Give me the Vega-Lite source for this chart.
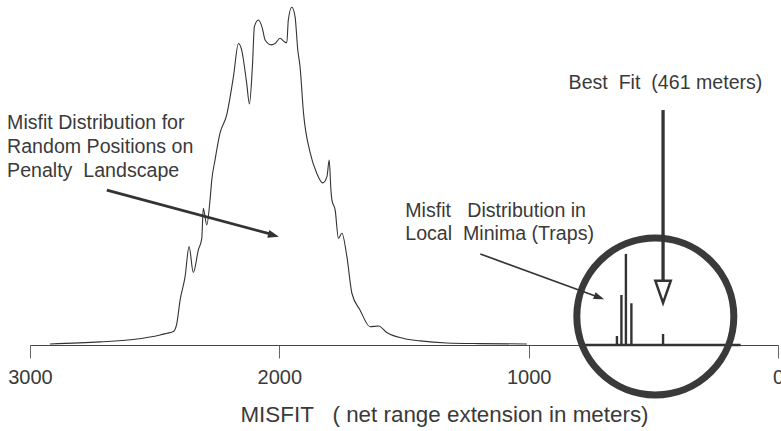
{
  "$schema": "https://vega.github.io/schema/vega-lite/v6.json",
  "width": 748,
  "height": 345,
  "autosize": {"type": "none"},
  "padding": {"left": 30, "top": 0, "right": 3, "bottom": 86},
  "background": "white",
  "config": {
    "view": {"stroke": null},
    "font": "Liberation Sans"
  },
  "layer": [
    {
      "data": {"values": [
        {"misfit": 2920, "freq": 0.3},
        {"misfit": 2719, "freq": 0.9},
        {"misfit": 2587, "freq": 1.6},
        {"misfit": 2478, "freq": 2.9},
        {"misfit": 2451, "freq": 3.4},
        {"misfit": 2425, "freq": 3.9},
        {"misfit": 2411, "freq": 6.3},
        {"misfit": 2398, "freq": 13.0},
        {"misfit": 2378, "freq": 19.8},
        {"misfit": 2362, "freq": 28.5},
        {"misfit": 2345, "freq": 21.0},
        {"misfit": 2325, "freq": 27.5},
        {"misfit": 2311, "freq": 30.9},
        {"misfit": 2305, "freq": 39.6},
        {"misfit": 2291, "freq": 34.8},
        {"misfit": 2278, "freq": 42.0},
        {"misfit": 2271, "freq": 47.8},
        {"misfit": 2258, "freq": 53.6},
        {"misfit": 2238, "freq": 61.4},
        {"misfit": 2211, "freq": 66.7},
        {"misfit": 2184, "freq": 77.8},
        {"misfit": 2164, "freq": 87.4},
        {"misfit": 2151, "freq": 85.5},
        {"misfit": 2131, "freq": 75.9},
        {"misfit": 2120, "freq": 69.9},
        {"misfit": 2108, "freq": 80.7},
        {"misfit": 2100, "freq": 92.3},
        {"misfit": 2084, "freq": 94.2},
        {"misfit": 2068, "freq": 91.8},
        {"misfit": 2057, "freq": 88.4},
        {"misfit": 2033, "freq": 87.0},
        {"misfit": 2017, "freq": 87.4},
        {"misfit": 1997, "freq": 88.9},
        {"misfit": 1980, "freq": 87.9},
        {"misfit": 1970, "freq": 87.6},
        {"misfit": 1964, "freq": 94.2},
        {"misfit": 1950, "freq": 97.9},
        {"misfit": 1937, "freq": 95.2},
        {"misfit": 1926, "freq": 85.5},
        {"misfit": 1917, "freq": 80.7},
        {"misfit": 1903, "freq": 67.2},
        {"misfit": 1876, "freq": 55.6},
        {"misfit": 1850, "freq": 49.8},
        {"misfit": 1826, "freq": 47.0},
        {"misfit": 1809, "freq": 48.8},
        {"misfit": 1800, "freq": 53.6},
        {"misfit": 1793, "freq": 44.9},
        {"misfit": 1789, "freq": 42.0},
        {"misfit": 1776, "freq": 39.1},
        {"misfit": 1763, "freq": 30.9},
        {"misfit": 1749, "freq": 32.4},
        {"misfit": 1729, "freq": 25.6},
        {"misfit": 1709, "freq": 15.0},
        {"misfit": 1676, "freq": 10.1},
        {"misfit": 1636, "freq": 5.3},
        {"misfit": 1602, "freq": 5.5},
        {"misfit": 1569, "freq": 3.6},
        {"misfit": 1502, "freq": 1.9},
        {"misfit": 1435, "freq": 1.2},
        {"misfit": 1328, "freq": 0.6},
        {"misfit": 1194, "freq": 0.4},
        {"misfit": 1007, "freq": 0.3}
      ]},
      "mark": {"type": "line", "color": "#333333", "strokeWidth": 1.1, "interpolate": "monotone"},
      "encoding": {
        "x": {
          "field": "misfit",
          "type": "quantitative",
          "scale": {"domain": [0, 3000], "reverse": true, "nice": false, "zero": false},
          "axis": {
            "values": [3000, 2000, 1000, 0],
            "format": "d",
            "grid": false,
            "labelFont": "Liberation Sans",
            "labelFontSize": 20,
            "labelColor": "#3a3a3a",
            "labelPadding": 9,
            "labelFlush": false,
            "labelOverlap": false,
            "tickColor": "#666666",
            "tickSize": 13,
            "tickWidth": 1,
            "domainColor": "#444444",
            "domainWidth": 1.2,
            "title": "MISFIT\u00a0\u00a0 ( net range extension in meters)",
            "titleFont": "Liberation Sans",
            "titleFontSize": 22.4,
            "titleFontWeight": "normal",
            "titleColor": "#3a3a3a",
            "titleX": 414,
            "titleY": 76,
            "titleAlign": "center",
            "titleBaseline": "alphabetic"
          }
        },
        "y": {
          "field": "freq",
          "type": "quantitative",
          "scale": {"domain": [0, 100], "nice": false, "zero": true},
          "axis": null
        }
      }
    },
    {
      "data": {"values": [{"from": 785, "to": 150, "level": 0}]},
      "mark": {"type": "rule", "color": "#333333", "strokeWidth": 2.5},
      "encoding": {
        "x": {"field": "from", "type": "quantitative"},
        "x2": {"field": "to"},
        "y": {"field": "level", "type": "quantitative"}
      }
    },
    {
      "data": {"values": [
        {"misfit": 646, "base": 0, "freq": 2.6},
        {"misfit": 628, "base": 0, "freq": 14.5},
        {"misfit": 610, "base": 0, "freq": 26.4},
        {"misfit": 588, "base": 0, "freq": 12.1},
        {"misfit": 461, "base": 0, "freq": 3.2}
      ]},
      "mark": {"type": "rule", "color": "#333333", "strokeWidth": 2.4},
      "encoding": {
        "x": {"field": "misfit", "type": "quantitative"},
        "y": {"field": "base", "type": "quantitative"},
        "y2": {"field": "freq"}
      }
    },
    {
      "data": {"values": [{"misfit": 492, "freq": 8.26}]},
      "mark": {"type": "point", "shape": "circle", "size": 24649, "filled": false, "stroke": "#3a3a3a", "strokeWidth": 7, "opacity": 1},
      "encoding": {
        "x": {"field": "misfit", "type": "quantitative"},
        "y": {"field": "freq", "type": "quantitative"}
      }
    },
    {
      "data": {"values": [{"x1": 2692, "y1": 44.9, "x2": 2037, "y2": 32.2}]},
      "mark": {"type": "rule", "color": "#333333", "strokeWidth": 2.8},
      "encoding": {
        "x": {"field": "x1", "type": "quantitative"},
        "y": {"field": "y1", "type": "quantitative"},
        "x2": {"field": "x2"},
        "y2": {"field": "y2"}
      }
    },
    {
      "data": {"values": [{"misfit": 2023, "freq": 31.8}]},
      "mark": {"type": "point", "shape": "M0,-1L0.75,1L-0.75,1Z", "size": 121, "angle": 105, "filled": true, "color": "#333333", "opacity": 1},
      "encoding": {
        "x": {"field": "misfit", "type": "quantitative"},
        "y": {"field": "freq", "type": "quantitative"}
      }
    },
    {
      "data": {"values": [{"x1": 1194, "y1": 26.4, "x2": 733, "y2": 14.2}]},
      "mark": {"type": "rule", "color": "#333333", "strokeWidth": 1.6},
      "encoding": {
        "x": {"field": "x1", "type": "quantitative"},
        "y": {"field": "y1", "type": "quantitative"},
        "x2": {"field": "x2"},
        "y2": {"field": "y2"}
      }
    },
    {
      "data": {"values": [{"misfit": 717, "freq": 13.8}]},
      "mark": {"type": "point", "shape": "M0,-1L0.7,1L-0.7,1Z", "size": 110, "angle": 110, "filled": true, "color": "#333333", "opacity": 1},
      "encoding": {
        "x": {"field": "misfit", "type": "quantitative"},
        "y": {"field": "freq", "type": "quantitative"}
      }
    },
    {
      "data": {"values": [{"misfit": 461, "top": 68.1, "bottom": 18.55}]},
      "mark": {"type": "rule", "color": "#333333", "strokeWidth": 3.3},
      "encoding": {
        "x": {"field": "misfit", "type": "quantitative"},
        "y": {"field": "top", "type": "quantitative"},
        "y2": {"field": "bottom"}
      }
    },
    {
      "data": {"values": [{"misfit": 461, "freq": 15.4}]},
      "mark": {"type": "point", "shape": "M-0.7,-1L0.7,-1L0,1Z", "size": 484, "filled": true, "fill": "white", "stroke": "#333333", "strokeWidth": 2.5, "opacity": 1},
      "encoding": {
        "x": {"field": "misfit", "type": "quantitative"},
        "y": {"field": "freq", "type": "quantitative"}
      }
    },
    {
      "data": {"values": [
        {"misfit": 3092, "freq": 62.6, "label": "Misfit Distribution for\nRandom Positions on\nPenalty\u00a0 Landscape"},
        {"misfit": 1495, "freq": 37.2, "label": "Misfit\u00a0\u00a0 Distribution in\nLocal\u00a0 Minima (Traps)"},
        {"misfit": 840, "freq": 74.2, "label": "Best\u00a0 Fit\u00a0 (461 meters)"}
      ]},
      "mark": {"type": "text", "align": "left", "baseline": "alphabetic", "lineBreak": "\n", "lineHeight": 23.8, "font": "Liberation Sans", "fontSize": 19.6, "color": "#3a3a3a"},
      "encoding": {
        "x": {"field": "misfit", "type": "quantitative"},
        "y": {"field": "freq", "type": "quantitative"},
        "text": {"field": "label"}
      }
    }
  ]
}
